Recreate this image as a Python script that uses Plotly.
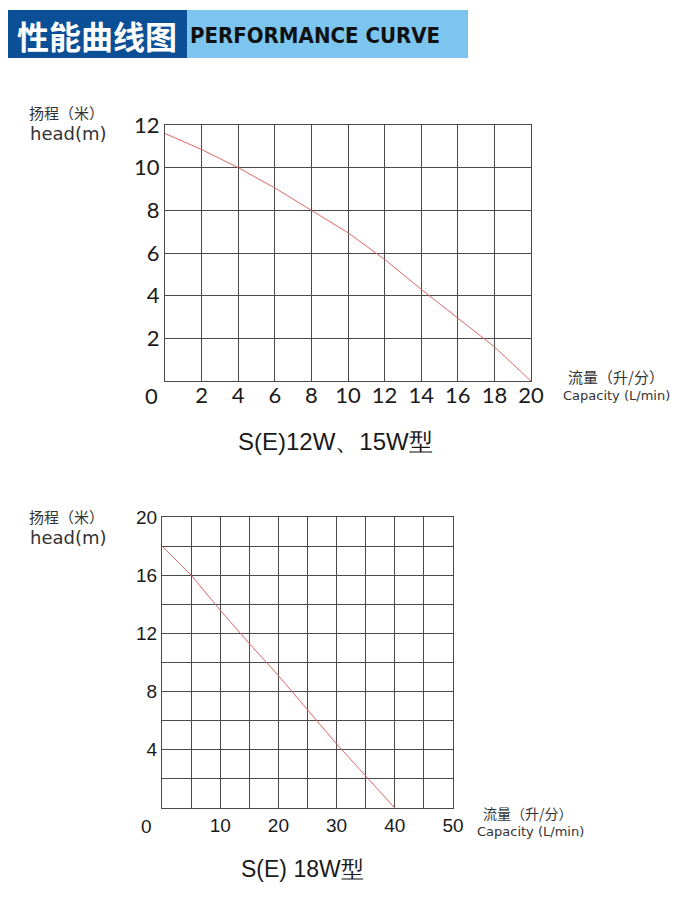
import plotly.graph_objects as go

# ---- data ----
top_flow = [0, 2, 4, 6, 8, 10, 12, 14, 16, 18, 20]
top_head = [11.6, 10.85, 10.0, 9.05, 8.0, 6.95, 5.7, 4.3, 2.95, 1.6, 0.0]
top_xticks = [2, 4, 6, 8, 10, 12, 14, 16, 18, 20]
top_yticks = [2, 4, 6, 8, 10, 12]

bot_flow = [0, 5, 10, 15, 20, 25, 30, 35, 40]
bot_head = [18.0, 16.0, 13.6, 11.3, 9.1, 6.75, 4.4, 2.2, 0.0]
bot_xticks = [10, 20, 30, 40, 50]
bot_yticks = [4, 8, 12, 16, 20]

# the page body adds an 8px margin, so the figure is 16px smaller and shifted
OFF = 8
W, H = 700 - 2 * OFF, 908 - 2 * OFF
def px(x): return (x - OFF) / W
def py(y): return 1 - (y - OFF) / H

GRID = "#4a4a4a"
RED = "#e06666"

fig = go.Figure()
fig.add_trace(go.Scatter(x=top_flow, y=top_head, mode="lines", line=dict(color=RED, width=1),
                         xaxis="x", yaxis="y", showlegend=False, hoverinfo="skip"))
fig.add_trace(go.Scatter(x=bot_flow, y=bot_head, mode="lines", line=dict(color=RED, width=1),
                         xaxis="x2", yaxis="y2", showlegend=False, hoverinfo="skip"))

top_font = dict(family="Lato, Open Sans, sans-serif", size=22, color="#1a1a1a")
bot_font = dict(family="Liberation Sans, Arial, sans-serif", size=19, color="#1a1a1a")

ax_common = dict(showline=True, linecolor=GRID, linewidth=1, mirror=True, zeroline=False,
                 showgrid=True, gridcolor=GRID, gridwidth=1, ticks="", fixedrange=True,
                 automargin=False)

fig.update_layout(
    template="none",
    width=W, height=H, margin=dict(l=0, r=0, t=0, b=0, pad=0, autoexpand=False),
    paper_bgcolor="white", plot_bgcolor="white",
    xaxis=dict(domain=[px(165), px(531)], range=[0, 20], tickvals=top_xticks,
               tickfont=top_font, anchor="y", ticklabelstandoff=-5, **ax_common),
    yaxis=dict(domain=[py(381), py(125)], range=[0, 12], tickvals=top_yticks,
               tickfont=top_font, anchor="x", **ax_common),
    xaxis2=dict(domain=[px(162), px(453)], range=[0, 50], tickvals=bot_xticks,
                tickfont=bot_font, anchor="y2",
                minor=dict(dtick=5, showgrid=True, gridcolor=GRID, gridwidth=1), **ax_common),
    yaxis2=dict(domain=[py(808), py(517)], range=[0, 20], tickvals=bot_yticks,
                tickfont=bot_font, anchor="x2",
                minor=dict(dtick=2, showgrid=True, gridcolor=GRID, gridwidth=1), **ax_common),
)

# header
fig.add_shape(type="rect", xref="paper", yref="paper", x0=px(7), x1=px(187), y0=py(58), y1=py(10),
              fillcolor="#0b4f97", line=dict(width=0), layer="below")
fig.add_shape(type="rect", xref="paper", yref="paper", x0=px(187), x1=px(468), y0=py(58), y1=py(10),
              fillcolor="#7cc5ef", line=dict(width=0), layer="below")

anns = []
def ann(text, x, y, size, family, color="#222", xanchor="left", weight=None):
    f = dict(size=size, family=family, color=color)
    if weight:
        f["weight"] = weight
    anns.append(dict(text=text, x=px(x), y=py(y), xref="paper", yref="paper", showarrow=False,
                     xanchor=xanchor, yanchor="middle", font=f))

ann("性能曲线图", 97, 35, 32, "Noto Sans CJK SC", color="white", xanchor="center", weight="bold")
ann("<b>PERFORMANCE CURVE</b>", 315, 36, 22,
    "Liberation Sans Narrow, DejaVu Sans Condensed, Arial Narrow, sans-serif",
    color="#111", xanchor="center")

cjk = "Noto Sans CJK SC"
lab = "DejaVu Sans, sans-serif"
# top chart labels
ann("扬程（米）", 27, 113, 15, cjk, color="#333")
ann("head(m)", 28, 134, 18, lab, color="#333")
ann("0", 151, 395, 22, "Lato, Open Sans, sans-serif", color="#1a1a1a", xanchor="center")
ann("流量（升/分）", 566, 377, 15, cjk, color="#333")
ann("Capacity (L/min)", 561, 396, 13, lab, color="#333")
ann("S(E)12W、15W型", 335, 441, 24, "Liberation Sans, Arial, sans-serif", color="#1a1a1a", xanchor="center")

# bottom chart labels
ann("扬程（米）", 27, 516, 15, cjk, color="#333")
ann("head(m)", 28, 537, 18, lab, color="#333")
ann("0", 146, 826, 19, "Liberation Sans, Arial, sans-serif", color="#1a1a1a", xanchor="center")
ann("流量（升/分）", 481, 813, 14, cjk, color="#333")
ann("Capacity (L/min)", 475, 831, 13, lab, color="#333")
ann("S(E) 18W型", 302, 869, 23, "Liberation Sans, Arial, sans-serif", color="#1a1a1a", xanchor="center")

fig.update_layout(annotations=anns)
fig.write_html("out.html")
